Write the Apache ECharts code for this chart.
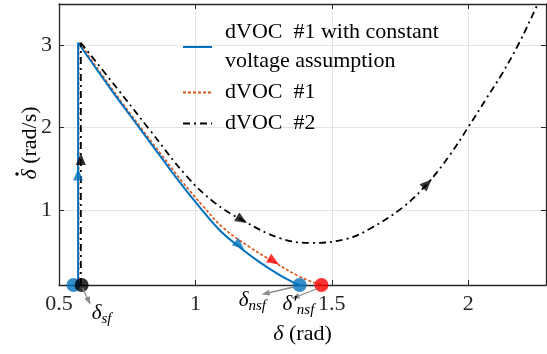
<!DOCTYPE html>
<html><head><meta charset="utf-8">
<script src="https://cdn.jsdelivr.net/npm/echarts@6/dist/echarts.min.js"></script>
<style>html,body{margin:0;padding:0;background:#fff}#c{width:547px;height:354px}</style>
</head><body><div id="c"></div>
<script>
// ---- data (delta in rad, delta-dot in rad/s) ----
// vertical start-up segments (delta constant while delta-dot rises)
const blueRiseDelta = [0.570, 0.570];
const blueRiseRate  = [0.09, 3.03];
const redRiseDelta  = [0.572, 0.572];
const redRiseRate   = [0.09, 3.03];
const blackRiseDelta = [0.580, 0.580];
const blackRiseRate  = [0.09, 3.03];
// decaying trajectories
const blueDelta = [0.570, 0.687, 0.796, 0.870, 0.943, 1.016, 1.089, 1.162, 1.235, 1.309, 1.364, 1.382];
const blueRate  = [3.03,  2.48,  1.99,  1.66,  1.335, 1.033, 0.755, 0.549, 0.368, 0.211, 0.114, 0.09];
const redDelta  = [0.575, 0.692, 0.802, 0.878, 0.954, 1.027, 1.100, 1.199, 1.287, 1.371, 1.429, 1.462];
const redRate   = [3.03,  2.48,  1.99,  1.66,  1.335, 1.050, 0.790, 0.550, 0.370, 0.210, 0.126, 0.09];
const blackDelta = [0.580, 0.712, 0.833, 0.968, 1.070, 1.170, 1.309, 1.429, 1.554, 1.638, 1.759, 1.850, 1.931, 1.997, 2.066, 2.125, 2.187, 2.249, 2.285];
const blackRate  = [3.03,  2.48,  1.97,  1.41,  1.09,  0.88,  0.66,  0.60,  0.65,  0.77,  1.03,  1.32,  1.66,  1.99,  2.35,  2.66,  3.03,  3.46,  3.72];
const names = ['dVOC  #1 with constant\nvoltage assumption', 'dVOC  #1', 'dVOC  #2'];
// arrow markers on the trajectories: [delta, rate]
const blueArrows  = [[0.570, 1.43], [1.162, 0.57]];
const redArrows   = [[1.287, 0.38]];
const blackArrows = [[0.580, 1.62], [1.170, 0.88], [1.850, 1.32]];
// equilibrium points
const blueDots  = [[0.553, 0.09], [1.382, 0.09]];
const redDots   = [[1.462, 0.09]];
const blackDots = [[0.583, 0.09]];

const BLUE = '#0072BD', RED = '#D95319', BLACK = '#000';
const FONT = 'Liberation Serif';
const FS = 22;
const zip = (a, b) => a.map((v, i) => [v, b[i]]);
const blueLine = zip(blueDelta, blueRate), redLine = zip(redDelta, redRate), blackLine = zip(blackDelta, blackRate);

const chart = echarts.init(document.getElementById('c'), null, {renderer: 'canvas'});
const baseAxis = {
  axisLine: {show: true, onZero: false, lineStyle: {color: '#262626', width: 1.3}},
  axisTick: {show: true, inside: true, length: 5, lineStyle: {color: '#262626'}},
  axisLabel: {color: '#262626', fontFamily: FONT, fontSize: FS, showMinLabel: false, showMaxLabel: false},
  splitLine: {show: false}
};
function arrowSeries(pts, color, id) {
  return {id: id, type: 'scatter', data: pts.map(p => ({value: p})), symbol: 'triangle', symbolSize: [10, 12],
    itemStyle: {color: color}, z: 6, silent: true};
}
const blueStyle = {color: BLUE, width: 2};
const redStyle = {color: RED, width: 1.6, type: [3, 2]};
const blackStyle = {color: BLACK, width: 1.8, type: [7, 4, 2, 4]};
const option = {
  animation: false,
  grid: {left: 59, right: 1, top: 4, bottom: 69, containLabel: false, outerBoundsMode: 'none'},
  legend: {
    data: names,
    orient: 'vertical', left: 177, top: 13, itemWidth: 29, itemHeight: 14, itemGap: 2,
    itemStyle: {opacity: 0},
    textStyle: {fontFamily: FONT, fontSize: FS, color: '#000', lineHeight: 29, padding: [0, 0, 0, 8]},
    selectedMode: false
  },
  xAxis: [
    Object.assign({}, baseAxis, {type: 'value', min: 0.5, max: 2.285, interval: 0.5, position: 'bottom',
      axisLabel: Object.assign({}, baseAxis.axisLabel, {margin: 8, showMinLabel: true}),
      splitLine: {show: true, lineStyle: {color: '#e3e3e3', width: 1}},
      name: '{i|δ} (rad)', nameLocation: 'middle', nameGap: 38,
      nameTextStyle: {fontFamily: FONT, fontSize: FS, color: '#000', rich: {i: {fontFamily: FONT, fontSize: FS, fontStyle: 'italic'}}}}),
    Object.assign({}, baseAxis, {type: 'value', min: 0.5, max: 2.285, interval: 0.5, position: 'top',
      axisLabel: {show: false}})
  ],
  yAxis: [
    Object.assign({}, baseAxis, {type: 'value', min: 0.09, max: 3.5, splitNumber: 3, position: 'left',
      axisLabel: Object.assign({}, baseAxis.axisLabel, {margin: 7}),
      splitLine: {show: true, lineStyle: {color: '#e3e3e3', width: 1}}}),
    Object.assign({}, baseAxis, {type: 'value', min: 0.09, max: 3.5, splitNumber: 3, position: 'right',
      axisLabel: {show: false}})
  ],
  series: [
    {name: names[1], type: 'line', data: zip(redRiseDelta, redRiseRate), symbol: 'none', z: 3, lineStyle: redStyle, itemStyle: {color: RED}},
    {name: names[1], type: 'line', data: redLine, symbol: 'none', smooth: 0.4, z: 3, lineStyle: redStyle, itemStyle: {color: RED}},
    {name: names[0], type: 'line', data: zip(blueRiseDelta, blueRiseRate), symbol: 'none', z: 4, lineStyle: blueStyle, itemStyle: {color: BLUE}},
    {name: names[0], type: 'line', data: blueLine, symbol: 'none', smooth: 0.4, z: 4, lineStyle: blueStyle, itemStyle: {color: BLUE}},
    {name: names[2], type: 'line', data: zip(blackRiseDelta, blackRiseRate), symbol: 'none', z: 5, lineStyle: blackStyle, itemStyle: {color: BLACK}},
    {name: names[2], type: 'line', data: blackLine, symbol: 'none', smooth: 0.4, z: 5, lineStyle: blackStyle, itemStyle: {color: BLACK}},
    arrowSeries(blueArrows, BLUE, 'ab'),
    arrowSeries(redArrows, '#FF0000', 'ar'),
    arrowSeries(blackArrows, BLACK, 'ak'),
    {type: 'scatter', data: blueDots, symbolSize: 14, itemStyle: {color: BLUE}, z: 7, clip: false, silent: true},
    {type: 'scatter', data: redDots, symbolSize: 14, itemStyle: {color: '#FF0000'}, z: 7, clip: false, silent: true},
    {type: 'scatter', data: blackDots, symbolSize: 14, itemStyle: {color: BLACK}, z: 8, clip: false, silent: true}
  ]
};
chart.setOption(option);

// orient arrows along their trajectory
const px = p => chart.convertToPixel({gridIndex: 0}, p);
function rotFor(p, lines) {
  const P = px(p);
  let bd = 1e9, dir = [0, -1];
  lines.forEach(line => {
    for (let i = 0; i < line.length - 1; i++) {
      const a = px(line[i]), b = px(line[i + 1]);
      const vx = b[0] - a[0], vy = b[1] - a[1], L2 = vx * vx + vy * vy || 1;
      let t = ((P[0] - a[0]) * vx + (P[1] - a[1]) * vy) / L2; t = Math.max(0, Math.min(1, t));
      const d = Math.hypot(P[0] - a[0] - t * vx, P[1] - a[1] - t * vy);
      if (d < bd) { bd = d; dir = [vx, vy]; }
    }
  });
  return Math.atan2(-dir[0], -dir[1]) * 180 / Math.PI;
}
function rotated(pts, lines) { return pts.map(p => ({value: p, symbolRotate: rotFor(p, lines)})); }

// annotations
const k = px(blackDots[0]), b = px(blueDots[1]), r = px(redDots[0]);
const GRAY = '#8c8c8c';
function arrow(x1, y1, x2, y2) {
  const ang = Math.atan2(y2 - y1, x2 - x1), L = 6, W = 3;
  return [
    {type: 'line', shape: {x1, y1, x2, y2}, style: {stroke: GRAY, lineWidth: 1.3}, z: 20},
    {type: 'polygon', shape: {points: [[x2 + Math.cos(ang) * 2, y2 + Math.sin(ang) * 2],
      [x2 - Math.cos(ang) * L - Math.sin(ang) * W, y2 - Math.sin(ang) * L + Math.cos(ang) * W],
      [x2 - Math.cos(ang) * L + Math.sin(ang) * W, y2 - Math.sin(ang) * L - Math.cos(ang) * W]]},
      style: {fill: GRAY}, z: 20}
  ];
}
const rich = {d: {fontFamily: FONT, fontSize: 21, fontStyle: 'italic', fill: '#000'},
  s: {fontFamily: FONT, fontSize: 15, fontStyle: 'italic', fill: '#000', padding: [12, 0, 0, 0]}};
// y-axis title: rotated group "δ̇ (rad/s)" with the dot drawn above δ
const yTitle = {type: 'group', x: 30, y: 143, rotation: Math.PI / 2, z: 20, children: [
  {type: 'text', x: 0, y: 0, style: {text: '{i|δ} (rad/s)', align: 'center', verticalAlign: 'middle',
    fontFamily: FONT, fontSize: FS, fill: '#000', rich: {i: {fontFamily: FONT, fontSize: FS, fontStyle: 'italic', fill: '#000'}}}},
  {type: 'circle', shape: {cx: -31, cy: -13, r: 1.7}, style: {fill: '#000'}}
]};
chart.setOption({
  series: [
    {id: 'ab', data: rotated(blueArrows, [blueLine, zip(blueRiseDelta, blueRiseRate)])},
    {id: 'ar', data: rotated(redArrows, [redLine])},
    {id: 'ak', data: rotated(blackArrows, [blackLine, zip(blackRiseDelta, blackRiseRate)])}],
  graphic: [].concat(
    arrow(k[0] + 1, k[1] + 3, k[0] + 8, k[1] + 18),
    arrow(b[0] - 6, b[1] + 2, b[0] - 36, b[1] + 9),
    arrow(r[0] - 5, r[1] + 4, r[0] - 28, r[1] + 13),
    [
      yTitle,
      {type: 'text', left: k[0] + 10, top: k[1] + 18, style: {text: '{d|δ}{s|sf}', rich: rich}, z: 20},
      {type: 'text', left: b[0] - 61, top: b[1] + 5, style: {text: '{d|δ}{s|nsf}', rich: rich}, z: 20},
      {type: 'text', left: r[0] - 39, top: r[1] + 9, style: {text: '{d|δ′}{s|nsf}', rich: rich}, z: 20}
    ])
});
</script></body></html>
